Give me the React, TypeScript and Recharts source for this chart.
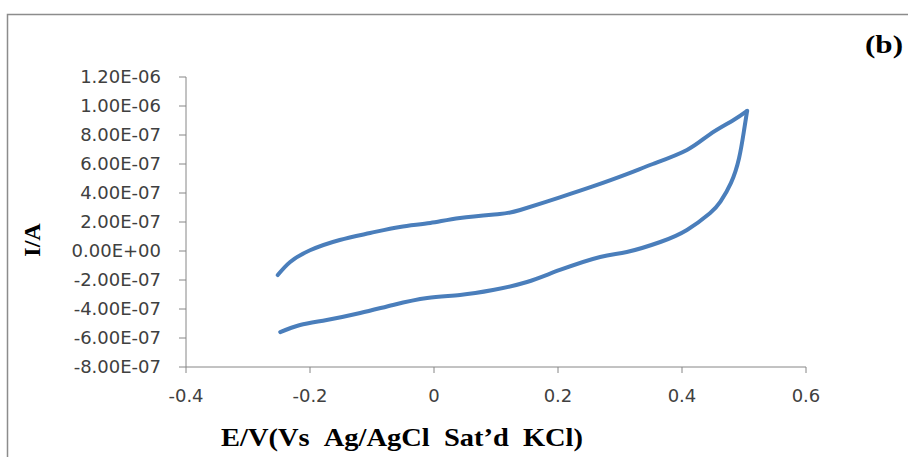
import React from 'react';
import { LineChart, Line, XAxis, YAxis } from 'recharts';

// Potential (V vs Ag/AgCl) and current (A)
const forwardE = [-0.252, -0.232, -0.2, -0.152, -0.103, -0.055, -0.006, 0.042, 0.106, 0.139, 0.203, 0.256, 0.311, 0.353, 0.408, 0.445, 0.482, 0.505];
const forwardI = [-1.66e-7, -0.76e-7, 0.05e-7, 0.76e-7, 1.24e-7, 1.66e-7, 1.93e-7, 2.28e-7, 2.55e-7, 2.83e-7, 3.7e-7, 4.45e-7, 5.3e-7, 6.0e-7, 6.97e-7, 8.05e-7, 9.0e-7, 9.66e-7];

const reverseE = [0.505, 0.5, 0.492, 0.479, 0.462, 0.445, 0.408, 0.365, 0.311, 0.268, 0.203, 0.15, 0.095, 0.042, -0.011, -0.066, -0.119, -0.173, -0.216, -0.248];
const reverseI = [9.66e-7, 8.3e-7, 6.4e-7, 4.7e-7, 3.4e-7, 2.6e-7, 1.45e-7, 0.62e-7, -0.07e-7, -0.41e-7, -1.31e-7, -2.14e-7, -2.69e-7, -3.03e-7, -3.24e-7, -3.72e-7, -4.28e-7, -4.76e-7, -5.1e-7, -5.59e-7];

const xTicks = [-0.4, -0.2, 0, 0.2, 0.4, 0.6];
const yTicks = [-8e-7, -6e-7, -4e-7, -2e-7, 0, 2e-7, 4e-7, 6e-7, 8e-7, 1e-6, 1.2e-6];

const forwardData = forwardE.map((x, i) => ({ x, y: forwardI[i] }));
const reverseData = reverseE.map((x, i) => ({ x, y: reverseI[i] }));

function sci(v: number): string {
  if (Math.abs(v) < 1e-15) return '0.00E+00';
  const [m, e] = v.toExponential(2).split('e');
  const n = parseInt(e, 10);
  return `${m}E${n < 0 ? '-' : '+'}${String(Math.abs(n)).padStart(2, '0')}`;
}

const tickStyle = { fontFamily: 'DejaVu Sans', fontSize: 18, fill: '#404040' };
const axisColor = '#868686';

export default function App() {
  return (
    <div style={{ position: 'absolute', left: 0, top: 0, width: 908, height: 457, background: '#fff' }}>
      <LineChart width={908} height={457} margin={{ top: 77, right: 102, bottom: 0, left: 0 }}>
        <rect x={7.5} y={14.5} width={1200} height={1200} fill="none" stroke="#8c8c8c" strokeWidth={1.5} />
        <XAxis
          type="number"
          dataKey="x"
          domain={[-0.4, 0.6]}
          ticks={xTicks}
          height={90}
          tick={tickStyle}
          tickSize={6}
          tickMargin={16}
          stroke={axisColor}
          tickLine={{ stroke: axisColor }}
          allowDataOverflow
        />
        <YAxis
          type="number"
          dataKey="y"
          domain={[-8e-7, 1.2e-6]}
          ticks={yTicks}
          width={186}
          tick={tickStyle}
          tickSize={7}
          tickMargin={18}
          tickFormatter={sci}
          stroke={axisColor}
          tickLine={{ stroke: axisColor }}
          allowDataOverflow
        />
        <Line data={forwardData} dataKey="y" type="natural" stroke="#4a7ebb" strokeWidth={4} dot={false} isAnimationActive={false} strokeLinecap="round" />
        <Line data={reverseData} dataKey="y" type="natural" stroke="#4a7ebb" strokeWidth={4} dot={false} isAnimationActive={false} strokeLinecap="round" />
        <text x={32} y={240} transform="rotate(-90 32 240)" textAnchor="middle" dominantBaseline="central" fontFamily="Liberation Serif" fontWeight="bold" fontSize={24} fill="#000">I/A</text>
        <text x={402} y={446} textAnchor="middle" fontFamily="Liberation Serif" fontWeight="bold" fontSize={26} fill="#000" textLength={362} lengthAdjust="spacingAndGlyphs">{'E/V(Vs\u00A0\u00A0Ag/AgCl\u00A0\u00A0Sat\u2019d\u00A0\u00A0KCl)'}</text>
        <text x={884} y={53} textAnchor="middle" fontFamily="Liberation Serif" fontWeight="bold" fontSize={25} fill="#000" textLength={38} lengthAdjust="spacingAndGlyphs">(b)</text>
      </LineChart>
    </div>
  );
}
